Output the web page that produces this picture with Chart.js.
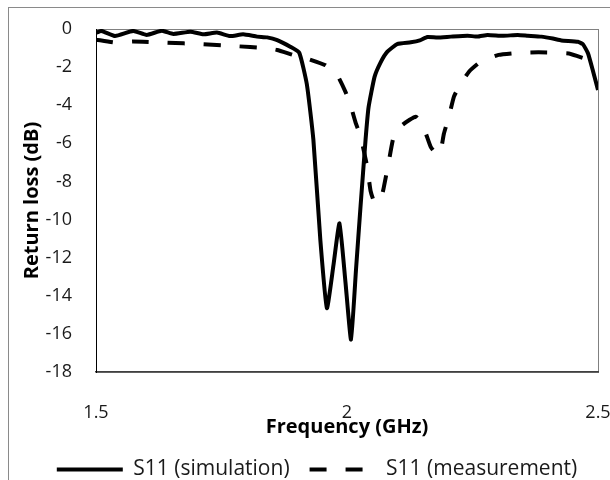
<!DOCTYPE html>
<html>
<head>
<meta charset="utf-8">
<script src="https://cdn.jsdelivr.net/npm/chart.js@4"></script>
<style>
    html, body { margin: 0; background: #fff; overflow: hidden; }
    #frame { position: absolute; left: 8px; top: 7px; width: 640px; height: 520px; border-left: 1px solid #8a8a8a; border-top: 1px solid #8a8a8a; }
    #chart { position: absolute; left: 0; top: 0; }
</style>
</head>
<body>
<div id="frame"></div>
<canvas id="chart" width="610" height="480"></canvas>
<script>
// values (GHz / dB)
const simFreq = [1.5, 1.511, 1.538, 1.574, 1.601, 1.631, 1.654, 1.688, 1.714, 1.741, 1.767, 1.793, 1.821, 1.841, 1.861, 1.887, 1.905, 1.92, 1.933, 1.947, 1.96, 1.973, 1.985, 1.997, 2.008, 2.018, 2.027, 2.037, 2.043, 2.055, 2.067, 2.08, 2.1, 2.127, 2.145, 2.16, 2.18, 2.207, 2.24, 2.26, 2.28, 2.31, 2.34, 2.36, 2.387, 2.41, 2.427, 2.46, 2.47, 2.48, 2.49, 2.5]
const simLoss = [-0.2, -0.1, -0.37, -0.1, -0.31, -0.09, -0.26, -0.14, -0.28, -0.19, -0.37, -0.28, -0.4, -0.44, -0.58, -0.93, -1.25, -2.9, -5.8, -11.1, -14.65, -12.4, -10.2, -13.3, -16.3, -12.6, -9.3, -5.8, -4.1, -2.5, -1.75, -1.2, -0.79, -0.7, -0.6, -0.42, -0.45, -0.4, -0.35, -0.4, -0.31, -0.36, -0.31, -0.35, -0.4, -0.5, -0.6, -0.67, -0.8, -1.27, -2.2, -3.2]

const measFreq = [1.5, 1.541, 1.574, 1.641, 1.708, 1.773, 1.841, 1.861, 1.893, 1.92, 1.957, 1.98, 1.997, 2.007, 2.017, 2.027, 2.04, 2.047, 2.055, 2.067, 2.073, 2.083, 2.093, 2.11, 2.137, 2.153, 2.167, 2.18, 2.187, 2.193, 2.203, 2.213, 2.223, 2.243, 2.266, 2.302, 2.342, 2.382, 2.442, 2.462, 2.48]
const measLoss = [-0.56, -0.72, -0.66, -0.72, -0.79, -0.89, -1.01, -1.1, -1.36, -1.55, -1.9, -2.4, -3.3, -4.0, -4.9, -5.65, -7.2, -8.5, -9.1, -8.97, -8.35, -7.0, -5.65, -5.04, -4.6, -5.2, -6.2, -6.6, -6.35, -5.5, -4.6, -3.55, -3.03, -2.24, -1.72, -1.36, -1.25, -1.22, -1.28, -1.45, -1.6]

const xTicks = [1.5, 2, 2.5]
const yMin = -18
const yMax = 0
const yStep = 2

const seriesNames = ['S11 (simulation)', 'S11 (measurement)']
const xTitle = 'Frequency (GHz)'
const yTitle = 'Return loss (dB)'

const toPoints = (xs, ys) => xs.map((x, i) => ({ x: x, y: ys[i] }))

// grey frame round the plot area, drawn under the axis lines
const plotBorder = {
    id: 'plotBorder',
    beforeDraw(chart) {
        const { ctx, chartArea: a } = chart
        ctx.save()
        ctx.strokeStyle = '#808080'
        ctx.lineWidth = 1
        ctx.strokeRect(a.left + 0.5, a.top + 0.5, a.right - a.left, a.bottom - a.top)
        ctx.restore()
    }
}

const font = 'Open Sans'

new Chart(document.getElementById('chart'), {
    type: 'scatter',
    data: {
        datasets: [{
            label: seriesNames[0],
            data: toPoints(simFreq, simLoss),
            showLine: true,
            borderColor: '#000',
            backgroundColor: 'transparent',
            borderWidth: 4,
            borderJoinStyle: 'round',
            pointRadius: 0,
            tension: 0.15
        }, {
            label: seriesNames[1],
            data: toPoints(measFreq, measLoss),
            showLine: true,
            borderColor: '#000',
            backgroundColor: 'transparent',
            borderWidth: 4,
            borderDash: [17, 19],
            borderCapStyle: 'butt',
            borderJoinStyle: 'round',
            pointRadius: 0,
            tension: 0.15
        }]
    },
    options: {
        responsive: false,
        animation: false,
        layout: { padding: { top: 29, right: 12, left: 36, bottom: -10 } },
        plugins: {
            tooltip: { enabled: false },
            legend: {
                position: 'bottom',
                labels: {
                    usePointStyle: true,
                    pointStyle: 'line',
                    pointStyleWidth: 66,
                    padding: 20,
                    color: '#1a1a1a',
                    font: { family: font, size: 21 },
                    // point style drops the dash, so take it from the dataset
                    generateLabels: chart => Chart.defaults.plugins.legend.labels.generateLabels(chart).map((item, i) => ({
                        ...item,
                        strokeStyle: '#000',
                        lineWidth: 4,
                        lineDash: chart.data.datasets[i].borderDash || [],
                        lineCap: 'butt'
                    }))
                }
            }
        },
        scales: {
            x: {
                type: 'linear',
                min: xTicks[0],
                max: xTicks[xTicks.length - 1],
                afterBuildTicks: scale => { scale.ticks = xTicks.map(v => ({ value: v })) },
                grid: { display: false, drawTicks: false },
                border: { color: '#404040', width: 1.5 },
                ticks: {
                    padding: 30,
                    color: '#1a1a1a',
                    font: { family: font, size: 18 },
                    callback: v => String(v)
                },
                title: {
                    display: true,
                    text: xTitle,
                    color: '#000',
                    padding: { top: 0, bottom: 0 },
                    font: { family: font, size: 20, weight: 'bold' }
                },
                afterFit: scale => {
                    scale.height = 67
                    scale.paddingLeft = 0
                    scale.paddingRight = 0
                }
            },
            y: {
                min: yMin,
                max: yMax,
                grid: { display: false, drawTicks: false },
                border: { color: '#000', width: 1 },
                ticks: { stepSize: yStep, padding: 24, color: '#1a1a1a', font: { family: font, size: 18 } },
                title: {
                    display: true,
                    text: yTitle,
                    color: '#000',
                    padding: { top: -16, bottom: 0 },
                    font: { family: font, size: 20, weight: 'bold' }
                },
                afterFit: scale => {
                    scale.width = 60
                    scale.paddingTop = 0
                    scale.paddingBottom = 0
                }
            }
        }
    },
    plugins: [plotBorder]
})
</script>
</body>
</html>
